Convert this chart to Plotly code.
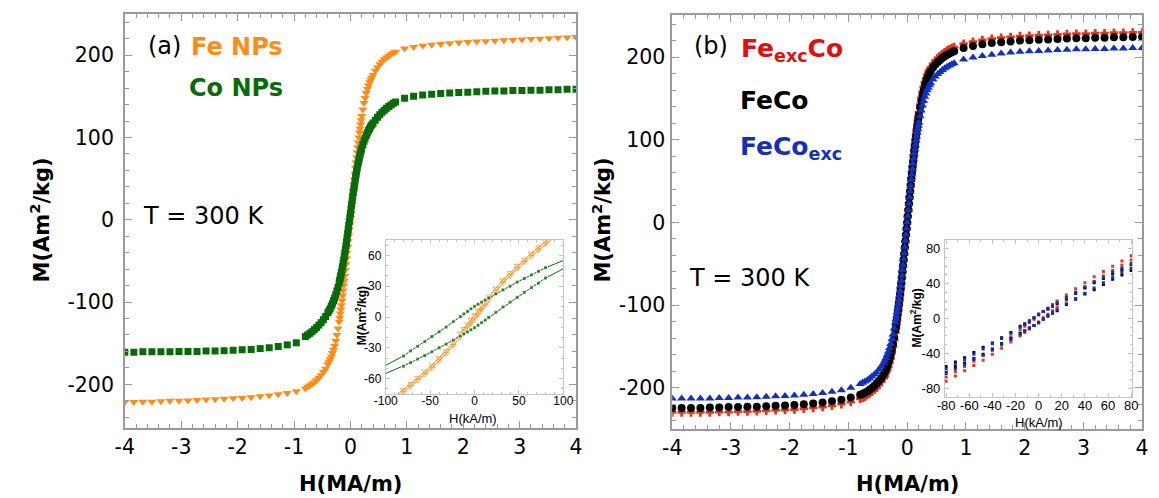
import plotly.graph_objects as go

# ---------------- main panels: field grid (MA/m) ----------------
H_POS = [0.01, 0.02, 0.03, 0.04, 0.05, 0.06, 0.07, 0.08, 0.09, 0.10,
         0.11, 0.12, 0.13, 0.14, 0.15, 0.16, 0.17, 0.18, 0.19, 0.20,
         0.22, 0.24, 0.26, 0.28, 0.30, 0.32, 0.34, 0.36, 0.38, 0.40,
         0.44, 0.48, 0.52, 0.56, 0.60, 0.64, 0.68, 0.72, 0.76, 0.80,
         0.96, 1.12, 1.28, 1.44, 1.60, 1.76, 1.92, 2.08, 2.24, 2.40,
         2.56, 2.72, 2.88, 3.04, 3.20, 3.36, 3.52, 3.68, 3.84, 4.00]

# ---- panel (a) ----
FE_0 = 2
FE_POS = [7, 14, 21, 28, 35, 42, 49, 56, 63, 70, 76, 82, 88, 94, 100, 106, 111, 116, 121, 126,
          134, 142, 148, 154, 159, 163, 167, 170, 173, 176,
          181, 185, 189, 192, 195, 197, 199, 201, 203, 204,
          208, 210, 211.5, 212.5, 213.5, 214.5, 215.5, 216, 216.5, 217,
          217.5, 218, 218.5, 219, 219.5, 220, 220.5, 221, 221.5, 222]
FE_NEG = [-5, -12, -19, -26, -33, -40, -47, -54, -61, -68, -74, -80, -86, -92, -98, -104, -109, -114, -119, -124,
          -132, -140, -147, -153, -158, -162, -166, -169.5, -172.5, -175.5,
          -181, -185, -189, -192, -195, -197.5, -199.5, -201.5, -203, -205,
          -208.5, -210.5, -212, -213.5, -214.5, -215.5, -216.5, -217, -217.5, -218,
          -218.5, -219, -219.5, -220, -220, -220.5, -221, -221, -221.5, -221.5]

CO_0 = 8
CO_POS = [13, 18, 23, 28, 33, 37.5, 42, 46.5, 51, 55, 59, 63, 66.5, 70, 73, 76, 79, 82, 84.5, 87,
          91.5, 95.5, 99, 102.5, 105.5, 108.5, 111, 113.5, 115.5, 117.5,
          121, 124.5, 127.5, 130.5, 133, 135.5, 137.5, 139.5, 141.5, 143,
          147.5, 150, 151.5, 152.5, 153.5, 154, 154.5, 155, 155.5, 156,
          156.5, 156.5, 157, 157, 157.5, 157.5, 158, 158, 158.5, 158.5]
CO_NEG = [3, -2, -7, -12, -17, -22, -27, -31.5, -36, -40.5, -45, -49, -53, -57, -60.5, -64, -67.5, -70.5, -73.5, -76.5,
          -82, -86.5, -91, -95, -98.5, -102, -105, -108, -110.5, -113,
          -117.5, -121.5, -125, -128, -131, -133.5, -136, -138, -140, -142,
          -149.5, -152, -154, -155.5, -156.5, -157.5, -158, -158.5, -159, -159.5,
          -159.5, -160, -160, -160, -160.5, -160.5, -160.5, -160.5, -161, -161]

# ---- panel (b) ----
FEEXCCO_0 = 0
FEEXCCO_POS = [7.7, 15.4, 23, 30.8, 38.4, 46, 53.3, 60.5, 67.7, 74.8, 81.5, 88.2, 94.3, 100.5, 106.6, 112.2, 117.9, 123, 128.1, 133.3,
               142.5, 150.7, 157.9, 164, 169.6, 174.3, 178.4, 182, 185, 187.6,
               192.2, 195.8, 198.9, 201.4, 204, 206, 208.1, 209.6, 211.2, 212.2,
               216.3, 218.8, 220.9, 222.4, 223.5, 224.5, 225.5, 226, 226.5, 227,
               227.5, 228, 228.5, 228.5, 229, 229, 229.5, 229.5, 230, 230]
FEEXCCO_NEG = [-7.7, -15.4, -23, -30.8, -38.4, -46, -53.3, -60.5, -67.7, -74.8, -81.5, -88.2, -94.3, -100.5, -106.6, -112.2, -117.9, -123, -128.1, -133.3,
               -142.5, -150.7, -158, -164.5, -170, -175, -179, -182.5, -186, -188.5,
               -193, -197, -200, -202.5, -205, -207, -209, -211, -212.5, -213.5,
               -217.5, -220, -222, -223.5, -224.5, -225.5, -226.5, -227, -227.5, -228,
               -228.5, -229, -229, -229.5, -229.5, -230, -230, -230, -230, -230]

FECO_0 = 0
FECO_POS = [7.5, 15, 22.5, 30, 37.5, 45, 52, 59, 66, 73, 79.5, 86, 92, 98, 104, 109.5, 115, 120, 125, 130,
            139, 147, 154, 160, 165.5, 170, 174, 177.5, 180.5, 183,
            187.5, 191, 194, 196.5, 199, 201, 203, 204.5, 206, 207,
            211, 213.5, 215.5, 217, 218, 219, 220, 220.5, 221, 221.5,
            222, 222.5, 223, 223, 223.5, 223.5, 224, 224, 224.5, 224.5]
FECO_NEG = [-7.5, -15, -22.5, -30, -37.5, -45, -52, -59, -66, -73, -79.5, -86, -92, -98, -104, -109.5, -115, -120, -125, -130,
            -139, -147, -154, -160, -165.5, -170, -174.5, -178, -181, -184,
            -188.5, -192, -195, -198, -200.5, -202.5, -204.5, -206, -207.5, -208.5,
            -212, -214.5, -216.5, -218, -219, -220, -221, -221.5, -222, -222.5,
            -223, -223, -223.5, -223.5, -224, -224, -224.5, -224.5, -224.5, -224.5]

FECOEXC_0 = 0
FECOEXC_POS = [7.5, 15, 22.5, 30, 37.5, 44.5, 51.5, 58, 64.5, 71, 77, 83, 88.5, 94, 99, 104, 108.5, 113, 117, 121,
               128.5, 135.5, 141.5, 147, 152, 156, 160, 163, 166, 168.5,
               173, 176.5, 179.5, 182, 184.5, 186.5, 188.5, 190, 191.5, 192.5,
               197, 199.5, 201.5, 203, 204.5, 205.5, 206.5, 207, 207.5, 208,
               208.5, 209, 209.5, 209.5, 210, 210, 210.5, 210.5, 211, 211]
FECOEXC_NEG = [-7.5, -15, -22.5, -30, -37.5, -44.5, -51.5, -58, -64.5, -71, -77, -83, -88.5, -94, -99, -104, -108.5, -113, -117, -121,
               -128.5, -135.5, -141.5, -147, -152, -156.5, -160.5, -164, -167, -170,
               -174.5, -178, -181.5, -184, -186.5, -189, -191, -192.5, -194, -195.5,
               -200, -203, -205, -206.5, -207.5, -208.5, -209.5, -210, -210.5, -211,
               -211.5, -212, -212, -212.5, -212.5, -213, -213, -213, -213, -213]

# ---------------- inset (a): kA/m ----------------
H_IN_A = [-100, -80, -72, -64, -56, -48, -40, -32, -24, -16, -12, -8, -4, 0,
          4, 8, 12, 16, 24, 32, 40, 48, 56, 64, 72, 80, 100]
CO_IN_DOWN = [-47, -38, -33, -28.5, -24, -19, -14.5, -9.8, -4.6, 0.5, 3, 5.5, 8, 10.5,
              12.5, 14.5, 16.5, 18.6, 22.5, 26.4, 30, 34, 37.5, 41, 44.5, 48, 55]
CO_IN_UP = [-55, -48, -44.5, -41, -37.5, -34, -30, -26.4, -22.5, -18.6, -16.5, -14.5, -12.5, -10.5,
            -8, -5.5, -3, -0.5, 4.6, 9.8, 14.5, 19, 24, 28.5, 33, 38, 47]
FE_IN_DOWN = [-85, -71, -65, -59, -53, -47, -40, -33, -25, -16, -11.5, -7, -2.5, 2,
              6.5, 11, 15.5, 20, 28, 36, 43, 50, 56, 62, 68, 74, 88]
FE_IN_UP = [-88, -74, -68, -62, -56, -50, -43, -36, -28, -20, -15.5, -11, -6.5, -2,
            2.5, 7, 11.5, 16, 25, 33, 40, 47, 53, 59, 65, 71, 85]

# ---------------- inset (b): kA/m ----------------
H_IN_B = [-80, -72, -64, -56, -48, -40, -32, -24, -16, -12, -8, -4, 0,
          4, 8, 12, 16, 24, 32, 40, 48, 56, 64, 72, 80]
FEEXCCO_IN_DOWN = [-67, -61, -55, -49, -42, -36, -29, -21, -13, -9, -5, -1, 4,
                   8, 12, 16, 20, 27, 34, 41, 48, 54, 60, 66, 72]
FEEXCCO_IN_UP = [-72, -66, -60, -54, -48, -41, -34, -27, -20, -16, -12, -8, -4,
                 1, 5, 9, 13, 21, 29, 36, 42, 49, 55, 61, 67]
FECO_IN_DOWN = [-55, -50, -45, -39, -33, -28, -22, -16, -9, -6, -3, 1, 5,
                8, 11, 14, 17, 23, 29, 35, 41, 46, 51, 56, 61]
FECO_IN_UP = [-61, -56, -51, -46, -41, -35, -29, -23, -17, -14, -11, -8, -5,
              -1, 3, 6, 9, 16, 22, 28, 33, 39, 45, 50, 55]
FECOEXC_IN_DOWN = [-58, -53, -47, -41, -35, -29, -23, -17, -10, -7, -3, 1, 5,
                   8, 11, 14, 18, 24, 30, 36, 42, 47, 53, 58, 63]
FECOEXC_IN_UP = [-63, -58, -53, -47, -42, -36, -30, -24, -18, -14, -11, -8, -5,
                 -1, 3, 7, 10, 17, 23, 29, 35, 41, 47, 53, 58]

# ---------------- ticks ----------------
MAIN_X_TICKS = [-4, -3, -2, -1, 0, 1, 2, 3, 4]
MAIN_X_LABELS = ["-4", "-3", "-2", "-1", "0", "1", "2", "3", "4"]
MAIN_Y_TICKS = [-200, -100, 0, 100, 200]
MAIN_Y_LABELS = ["-200", "-100", "0", "100", "200"]
INA_X_TICKS = [-100, -50, 0, 50, 100]
INA_X_LABELS = ["-100", "-50", "0", "50", "100"]
INA_Y_TICKS = [-60, -30, 0, 30, 60]
INA_Y_LABELS = ["-60", "-30", "0", "30", "60"]
INB_X_TICKS = [-80, -60, -40, -20, 0, 20, 40, 60, 80]
INB_X_LABELS = ["-80", "-60", "-40", "-20", "0", "20", "40", "60", "80"]
INB_Y_TICKS = [-80, -40, 0, 40, 80]
INB_Y_LABELS = ["-80", "-40", "0", "40", "80"]

# ---------------- assemble ----------------
H_FULL = [-h for h in reversed(H_POS)] + [0] + H_POS


def full(neg, zero, pos):
    return list(reversed(neg)) + [zero] + pos


ORANGE = "#FF8C1A"
GREEN = "#0A6A0A"
RED = "#E8341C"
RED_TXT = "#E01010"
BLUE = "#1530B8"
BLACK = "#000000"
FRAME = "#9a9a9a"
INFRAME = "#c4c4c4"

fig = go.Figure()

# panel (a) main
fig.add_trace(go.Scatter(x=H_FULL, y=full(FE_NEG, FE_0, FE_POS), mode="markers",
                         marker=dict(symbol="triangle-down", size=8, color=ORANGE),
                         xaxis="x", yaxis="y", showlegend=False))
fig.add_trace(go.Scatter(x=H_FULL, y=full(CO_NEG, CO_0, CO_POS), mode="markers",
                         marker=dict(symbol="square", size=7, color=GREEN),
                         xaxis="x", yaxis="y", showlegend=False))

# inset (a)
sizes_a = [0 if abs(h) >= 100 else 5 for h in H_IN_A]
for yy in (FE_IN_DOWN, FE_IN_UP):
    fig.add_trace(go.Scatter(x=H_IN_A, y=yy, mode="lines+markers",
                             line=dict(color=ORANGE, width=1),
                             marker=dict(symbol="triangle-down-open", size=sizes_a, color=ORANGE,
                                         line=dict(width=1)),
                             xaxis="x2", yaxis="y2", showlegend=False, cliponaxis=True))
for yy in (CO_IN_DOWN, CO_IN_UP):
    fig.add_trace(go.Scatter(x=H_IN_A, y=yy, mode="lines+markers",
                             line=dict(color=GREEN, width=1),
                             marker=dict(symbol="square", size=[s - 1 if s else 0 for s in sizes_a], color=GREEN),
                             xaxis="x2", yaxis="y2", showlegend=False, cliponaxis=True))

# panel (b) main
fig.add_trace(go.Scatter(x=H_FULL, y=full(FEEXCCO_NEG, FEEXCCO_0, FEEXCCO_POS), mode="markers",
                         marker=dict(symbol="cross", size=7, color=RED),
                         xaxis="x3", yaxis="y3", showlegend=False))
fig.add_trace(go.Scatter(x=H_FULL, y=full(FECO_NEG, FECO_0, FECO_POS), mode="markers",
                         marker=dict(symbol="circle", size=8, color=BLACK),
                         xaxis="x3", yaxis="y3", showlegend=False))
fig.add_trace(go.Scatter(x=H_FULL, y=full(FECOEXC_NEG, FECOEXC_0, FECOEXC_POS), mode="markers",
                         marker=dict(symbol="triangle-up", size=8, color=BLUE),
                         xaxis="x3", yaxis="y3", showlegend=False))

# inset (b)
for yy, col in ((FEEXCCO_IN_DOWN, RED), (FEEXCCO_IN_UP, RED),
                (FECO_IN_DOWN, BLACK), (FECO_IN_UP, BLACK),
                (FECOEXC_IN_DOWN, BLUE), (FECOEXC_IN_UP, BLUE)):
    fig.add_trace(go.Scatter(x=H_IN_B, y=yy, mode="markers",
                             marker=dict(symbol="square", size=3, color=col),
                             xaxis="x4", yaxis="y4", showlegend=False))

W, Hh = 1159, 498


def px_x(p):
    return p / W


def px_y(p):
    return 1 - p / Hh


main_tick_font = dict(family="DejaVu Sans", size=20.5, color="black")


def main_axis(domain, rng, tv, tt, minor_dtick, anchor, standoff):
    return dict(domain=domain, range=rng, anchor=anchor, tickmode="array", tickvals=tv, ticktext=tt,
                ticks="inside", ticklen=7, tickwidth=1, tickcolor=FRAME,
                showline=True, linecolor=FRAME, linewidth=1.5, mirror="allticks",
                showgrid=False, zeroline=False, tickfont=main_tick_font,
                ticklabelstandoff=standoff,
                minor=dict(ticks="inside", ticklen=4, tickcolor=FRAME, dtick=minor_dtick,
                           tick0=0, showgrid=False))


def in_axis(domain, rng, tv, tt, minor_dtick, anchor, size, standoff):
    return dict(domain=domain, range=rng, anchor=anchor, tickmode="array", tickvals=tv, ticktext=tt,
                ticks="inside", ticklen=4, tickwidth=1, tickcolor=INFRAME,
                showline=True, linecolor=INFRAME, linewidth=1, mirror="allticks",
                showgrid=False, zeroline=False,
                tickfont=dict(family="Liberation Sans", size=size, color="black"),
                ticklabelstandoff=standoff,
                minor=dict(ticks="inside", ticklen=2, tickcolor=INFRAME, dtick=minor_dtick,
                           tick0=0, showgrid=False))


fig.update_layout(
    width=W, height=Hh, margin=dict(l=0, r=0, t=0, b=0),
    paper_bgcolor="white", plot_bgcolor="rgba(0,0,0,0)",
    xaxis=main_axis([px_x(115), px_x(575)], [-4, 4], MAIN_X_TICKS, MAIN_X_LABELS, 0.2, "y", 0),
    yaxis=main_axis([px_y(428), px_y(14)], [-253, 250], MAIN_Y_TICKS, MAIN_Y_LABELS, 20, "x", 5),
    xaxis2=in_axis([px_x(381), px_x(562)], [-100, 100], INA_X_TICKS, INA_X_LABELS, 10, "y2", 12, -4),
    yaxis2=in_axis([px_y(394), px_y(240)], [-75, 75], INA_Y_TICKS, INA_Y_LABELS, 10, "x2", 12, 1),
    xaxis3=main_axis([px_x(673), px_x(1152)], [-4, 4], MAIN_X_TICKS, MAIN_X_LABELS, 0.2, "y3", 0),
    yaxis3=main_axis([px_y(429), px_y(15)], [-250, 251], MAIN_Y_TICKS, MAIN_Y_LABELS, 20, "x3", 1),
    xaxis4=in_axis([px_x(951), px_x(1142)], [-81, 81], INB_X_TICKS, INB_X_LABELS, 10, "y4", 13, -4),
    yaxis4=in_axis([px_y(397), px_y(240)], [-90, 90], INB_Y_TICKS, INB_Y_LABELS, 10, "x4", 13, 1),
)

ann = []


def add(text, x, y, size, color="black", xanchor="center", yanchor="middle", angle=0, family="DejaVu Sans"):
    ann.append(dict(text=text, x=px_x(x), y=px_y(y), xref="paper", yref="paper", showarrow=False,
                    xanchor=xanchor, yanchor=yanchor, textangle=angle,
                    font=dict(family=family, size=size, color=color)))


# panel (a) labels
add("(a)", 155, 46, 24)
add("<b>Fe NPs</b>", 180, 47, 24, ORANGE, xanchor="left")
add("<b>Co NPs</b>", 178, 88, 24, GREEN, xanchor="left")
add("T = 300 K", 195, 216, 24)
add("<b>H(MA/m)</b>", 345, 484, 21)
add("<b>M(Am<sup>2</sup>/kg)</b>", 29, 220, 21, angle=-90)
add("H(kA/m)", 470, 418, 13, family="Liberation Sans")
add("<b>M(Am<sup>2</sup>/kg)</b>", 356, 316, 12, angle=-90, family="Liberation Sans")

# panel (b) labels
add("(b)", 713, 46, 24)
add("<b>Fe<sub>exc</sub>Co</b>", 741, 50, 25, RED_TXT, xanchor="left")
add("<b>FeCo</b>", 740, 101, 25, BLACK, xanchor="left")
add("<b>FeCo<sub>exc</sub></b>", 740, 148, 25, BLUE, xanchor="left")
add("T = 300 K", 752, 278, 24)
add("<b>H(MA/m)</b>", 913, 484, 21)
add("<b>M(Am<sup>2</sup>/kg)</b>", 601, 220, 21, angle=-90)
add("H(kA/m)", 1047, 422, 13, family="Liberation Sans")
add("<b>M(Am<sup>2</sup>/kg)</b>", 921, 318, 12, angle=-90, family="Liberation Sans")

fig.update_layout(annotations=ann)

fig.write_html("out.html")
